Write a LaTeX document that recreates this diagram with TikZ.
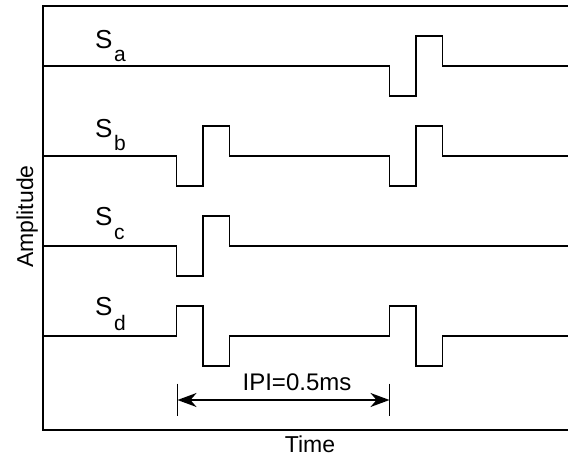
\documentclass[tikz,border=0pt]{standalone}
\usepackage{fontspec}
\setmainfont{Liberation Sans}
\usetikzlibrary{arrows.meta}
\begin{document}
\begin{tikzpicture}[x=1pt,y=-1pt,
  sig/.style={line width=1.8pt, line join=miter},
  frame/.style={line width=1.8pt},
  slab/.style={inner sep=0pt, anchor=base west, font=\fontsize{26}{26}\selectfont},
  sublab/.style={inner sep=0pt, anchor=base west, font=\fontsize{21}{21}\selectfont},
  axlab/.style={inner sep=0pt, anchor=base, font=\fontsize{23}{23}\selectfont},
  dim/.style={line width=1.8pt, {Stealth[length=19pt,width=14pt,inset=6pt]}-{Stealth[length=19pt,width=14pt,inset=6pt]}},
  tick/.style={line width=1.8pt}]
\useasboundingbox (0,0) rectangle (568,458);

% plot frame (right side lies beyond the page)
\draw[frame] (575,6) -- (43,6) -- (43,430) -- (575,430);

% pulse edges
\def\xa{176.5}\def\xb{203}\def\xc{229.5}
\def\xd{389.5}\def\xe{416}\def\xf{442.5}

% S_a : one biphasic pulse, negative first
\draw[sig] (43,66) -| (\xd,96) -| (\xe,36) -| (\xf,66) -- (575,66);
% S_b : two biphasic pulses, negative first
\draw[sig] (43,156) -| (\xa,186) -| (\xb,126) -| (\xc,156)
  -| (\xd,186) -| (\xe,126) -| (\xf,156) -- (575,156);
% S_c : one biphasic pulse, negative first
\draw[sig] (43,246) -| (\xa,276) -| (\xb,216) -| (\xc,246) -- (575,246);
% S_d : two biphasic pulses, positive first
\draw[sig] (43,336) -| (\xa,306) -| (\xb,366) -| (\xc,336)
  -| (\xd,306) -| (\xe,366) -| (\xf,336) -- (575,336);

% signal names
\node[slab] (sa) at (95,48) {S};
\node[sublab] (saa) at (114,61) {a};
\node[slab] (sb) at (95,137) {S};
\node[sublab] (sbb) at (114,150) {b};
\node[slab] (sc) at (95,225) {S};
\node[sublab] (scc) at (114,239) {c};
\node[slab] (sd) at (95,315) {S};
\node[sublab] (sdd) at (114,330) {d};

% inter-pulse interval
\coordinate (ipiL) at (177.5,400);
\coordinate (ipiR) at (389.5,400);
\draw[tick] (177.5,383.5) -- (177.5,416);
\draw[tick] (389.5,383.5) -- (389.5,416);
\draw[dim] (ipiL) -- (ipiR);
\node[inner sep=0pt, anchor=base, font=\fontsize{24}{24}\selectfont] (ipi) at (297,390) {IPI=0.5ms};

% axis titles
\node[axlab] (tlab) at (310,452) {Time};
\node[axlab, rotate=90] (alab) at (33,216.5) {Amplitude};
\end{tikzpicture}
\end{document}
